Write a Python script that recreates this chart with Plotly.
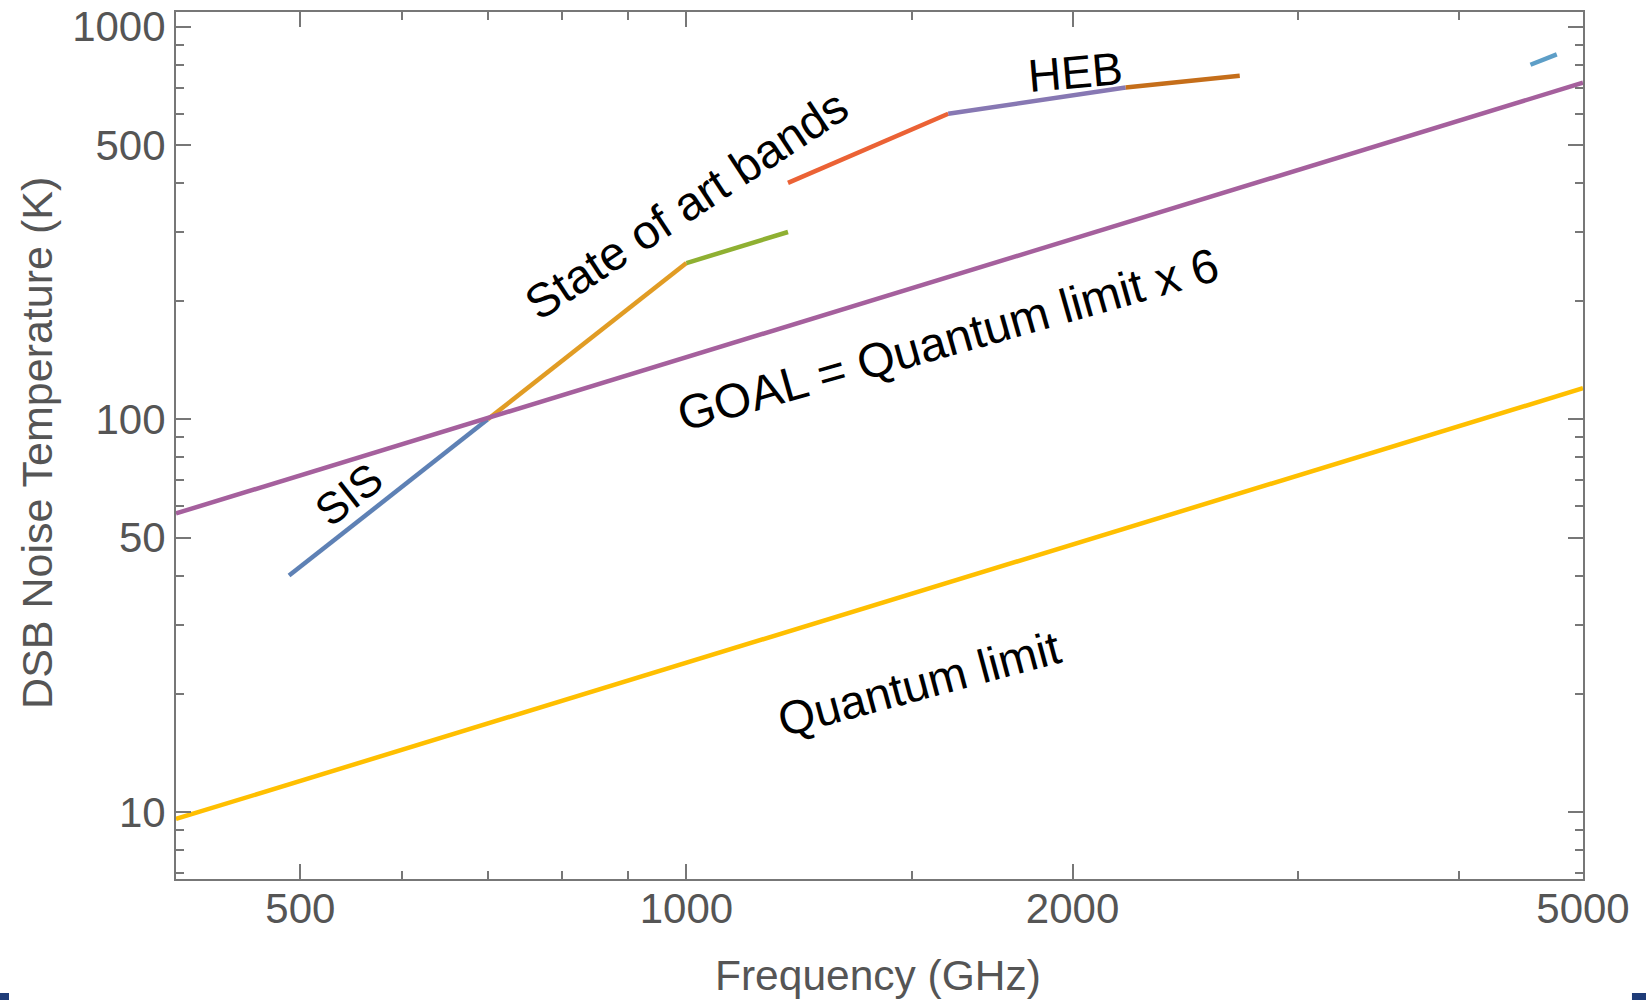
import math
import plotly.graph_objects as go

# ---------------- data ----------------
freq_limit = [400, 5000]          # GHz
quantum_limit = [9.6, 120]        # K
goal_limit = [57.6, 720]          # K  (quantum limit x 6)

band_freqs = [
    [490, 700],
    [700, 1000],
    [1000, 1200],
    [1200, 1600],
    [1600, 2200],
    [2200, 2700],
    [4550, 4770],
]
band_temps = [
    [40, 100],
    [100, 250],
    [250, 300],
    [400, 600],
    [600, 700],
    [700, 750],
    [800, 850],
]
band_colors = ["#5E81B5", "#E19C24", "#8FB032", "#EB6235",
               "#8778B3", "#C56E1A", "#5D9EC7"]

x_ticks = [500, 1000, 2000, 5000]
x_minor = [600, 700, 800, 900, 1500, 3000, 4000]
y_ticks = [10, 50, 100, 500, 1000]
y_minor = [7, 8, 9, 20, 30, 40, 60, 70, 80, 90, 200, 300, 400, 600, 700, 800, 900]

# ---------------- figure ----------------
fig = go.Figure()

for fx, ty, col in zip(band_freqs, band_temps, band_colors):
    fig.add_trace(go.Scatter(x=fx, y=ty, mode="lines",
                             line=dict(color=col, width=4.5), hoverinfo="skip"))

fig.add_trace(go.Scatter(x=freq_limit, y=goal_limit, mode="lines",
                         line=dict(color="#A5609D", width=4.5), name="GOAL"))
fig.add_trace(go.Scatter(x=freq_limit, y=quantum_limit, mode="lines",
                         line=dict(color="#FFBF00", width=4.5), name="Quantum limit"))

AX = "#777777"
TXT = "#555555"
FONT = "Liberation Sans, Arial, sans-serif"

common = dict(type="log", showgrid=False, zeroline=False, showline=True,
              linecolor=AX, linewidth=2, mirror="ticks", ticks="inside",
              ticklen=15, tickwidth=2, tickcolor=AX, automargin=False,
              tickfont=dict(family=FONT, size=42, color=TXT))

fig.update_xaxes(range=[math.log10(400), math.log10(5000)],
                 tickmode="array", tickvals=x_ticks,
                 ticktext=[str(v) for v in x_ticks],
                 ticklabelstandoff=-8,
                 minor=dict(tickmode="array", tickvals=x_minor, ticks="inside",
                            ticklen=8, tickwidth=2, tickcolor=AX, showgrid=False),
                 **common)
fig.update_yaxes(range=[0.8294, 3.0374],
                 tickmode="array", tickvals=y_ticks,
                 ticktext=[str(v) for v in y_ticks],
                 ticklabelstandoff=0,
                 minor=dict(tickmode="array", tickvals=y_minor, ticks="inside",
                            ticklen=8, tickwidth=2, tickcolor=AX, showgrid=False),
                 **common)

annots = [
    ("SIS", 545, 64.5, -38, 44),
    ("State of art bands", 1000, 352, -33.5, 47.5),
    ("HEB", 2012, 765, -5, 46),
    ("GOAL = Quantum limit x 6", 1599, 160, -15.8, 48),
    ("Quantum limit", 1518, 21.3, -15, 47),
]
for text, ax_, ay_, ang, size in annots:
    fig.add_annotation(x=math.log10(ax_), y=math.log10(ay_), xref="x", yref="y",
                       text=text, showarrow=False, textangle=ang,
                       font=dict(family=FONT, size=size, color="black"),
                       xanchor="center", yanchor="middle")

# axis titles
fig.add_annotation(x=0.499, y=0, xref="paper", yref="paper", yshift=-96,
                   text="Frequency (GHz)", showarrow=False,
                   font=dict(family=FONT, size=42.5, color=TXT),
                   xanchor="center", yanchor="middle")
fig.add_annotation(x=0, y=0.503, xref="paper", yref="paper", xshift=-139,
                   text="DSB Noise Temperature (K)", showarrow=False, textangle=-90,
                   font=dict(family=FONT, size=43, color=TXT),
                   xanchor="center", yanchor="middle")

# small slide-edge decorations in the bottom corners
fig.add_shape(type="rect", xref="paper", yref="paper",
              x0=-0.1251, x1=-0.1187, y0=-0.1396, y1=-0.1315,
              fillcolor="#1F3C78", line=dict(width=0))
fig.add_shape(type="rect", xref="paper", yref="paper",
              x0=1.0348, x1=1.0448, y0=-0.1396, y1=-0.1315,
              fillcolor="#1F3C78", line=dict(width=0))

fig.update_layout(width=1646, height=1000,
                  margin=dict(l=176, r=63, t=12, b=121, autoexpand=False),
                  plot_bgcolor="white", paper_bgcolor="white",
                  showlegend=False)

fig.write_html("out.html", config={"displayModeBar": False},
               post_script="document.body.style.margin='0px';"
                           "document.body.style.overflow='hidden';")
